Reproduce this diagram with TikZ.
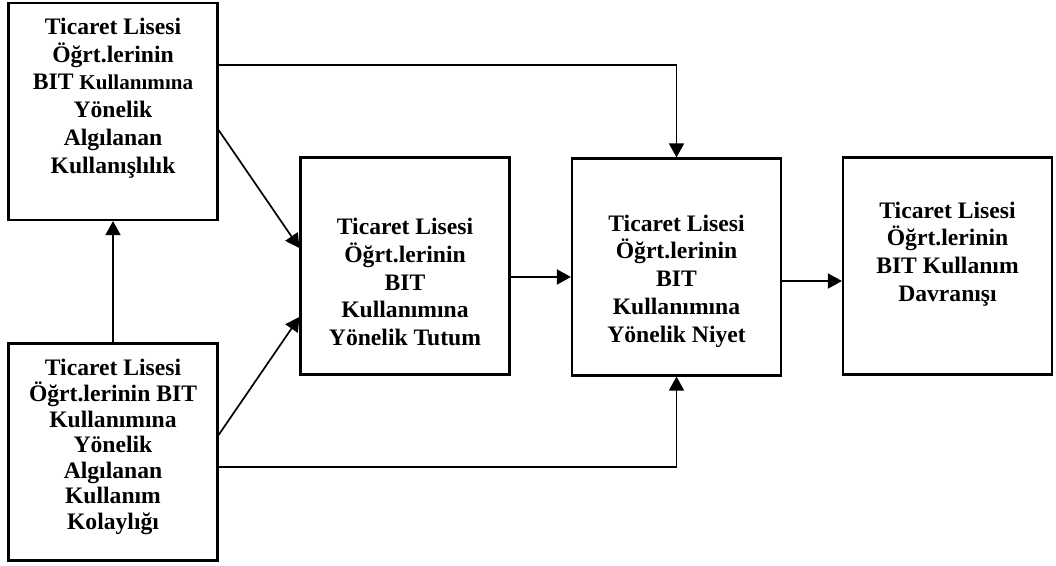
\documentclass[tikz,border=0pt]{standalone}
\usepackage{fontspec}
\setmainfont{Liberation Serif}
\usetikzlibrary{arrows.meta}
\begin{document}
\begin{tikzpicture}[x=0.025cm,y=-0.025cm,>={Triangle[length=0.35cm,width=0.375cm]},
                kutu/.style={draw,line width=1.5pt,minimum width=5.225cm,minimum height=5.425cm,inner sep=0pt},
                yazi/.style={align=center,inner sep=0pt,font=\fontsize{16.8}{19.7}\selectfont\bfseries},
                ok/.style={->,line width=1.2pt}]
                \useasboundingbox (0,0) rectangle (1056,565);
                \node[kutu] (a) at (113,111.5) {};
                \node[kutu] (b) at (113,452) {};
                \node[kutu] (c) at (405,266) {};
                \node[kutu] (d) at (676.5,267) {};
                \node[kutu] (e) at (947.5,266) {};
                \node[yazi] (at) at (113,98) {Ticaret Lisesi\\Öğrt.lerinin\\BIT {\fontsize{15}{19.7}\selectfont Kullanımına}\\Yönelik\\Algılanan\\Kullanışlılık};
                \node[yazi,font=\fontsize{16.8}{18.2}\selectfont\bfseries] (bt) at (113,447) {Ticaret Lisesi\\Öğrt.lerinin BIT\\Kullanımına\\Yönelik\\Algılanan\\Kullanım\\Kolaylığı};
                \node[yazi] (ct) at (405,282) {Ticaret Lisesi\\Öğrt.lerinin\\BIT\\Kullanımına\\Yönelik Tutum};
                \node[yazi] (dt) at (676.5,281) {Ticaret Lisesi\\Öğrt.lerinin\\BIT\\Kullanımına\\Yönelik Niyet};
                \node[yazi] (et) at (947.5,254) {Ticaret Lisesi\\Öğrt.lerinin\\BIT Kullanım\\Davranışı};
                \draw[ok] (b.north) -- (a.south);
                \draw[ok] (a.east |- 0,130) -- (c.west |- 0,248);
                \draw[ok] (b.east |- 0,435) -- (c.west |- 0,317);
                \draw[ok] (a.east |- 0,65) -| (d.north);
                \draw[ok] (b.east |- 0,467) -| (d.south);
                \draw[ok] (c.east |- 0,277) -- (d.west |- 0,277);
                \draw[ok] (d.east |- 0,281) -- (e.west |- 0,281);
            \end{tikzpicture}
\end{document}
